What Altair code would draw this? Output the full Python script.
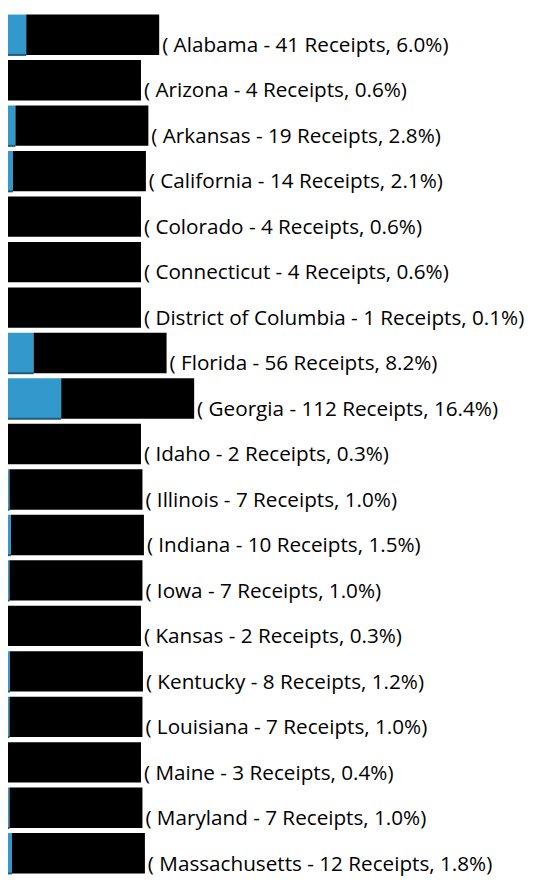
import altair as alt
import pandas as pd

states = ["Alabama", "Arizona", "Arkansas", "California", "Colorado", "Connecticut",
          "District of Columbia", "Florida", "Georgia", "Idaho", "Illinois", "Indiana",
          "Iowa", "Kansas", "Kentucky", "Louisiana", "Maine", "Maryland", "Massachusetts"]
receipts = [41, 4, 19, 14, 4, 4, 1, 56, 112, 2, 7, 10, 7, 2, 8, 7, 3, 7, 12]
percents = [6.0, 0.6, 2.8, 2.1, 0.6, 0.6, 0.1, 8.2, 16.4, 0.3, 1.0, 1.5, 1.0, 0.3, 1.2, 1.0, 0.4, 1.0, 1.8]

labels = [f"( {s} - {n} Receipts, {p:.1f}%)" for s, n, p in zip(states, receipts, percents)]

df = pd.DataFrame({"state": states, "receipts": receipts, "pct": percents, "label": labels})

W, H = 533, 872
xsc = alt.Scale(domain=[4, 4 + 2 * W], clamp=True)
ysc = alt.Scale(paddingInner=0.112, paddingOuter=0)

base = alt.Chart(df).transform_calculate(
    start="max(datum.receipts, 4)",
).transform_calculate(
    end="datum.start + 270",
)

yenc = alt.Y("state:N", sort=None, scale=ysc, axis=None)

blue = base.mark_rect(color="#3399cc").encode(
    x=alt.X("receipts:Q", scale=xsc, axis=None),
    x2=alt.value(0),
    y=yenc,
)

edge = base.mark_rule(color="#1f5b7c", strokeWidth=2).encode(
    x=alt.X("receipts:Q", scale=xsc, axis=None),
    x2=alt.value(0),
    y=alt.Y("state:N", sort=None, scale=ysc, axis=None, bandPosition=1),
)

black = base.mark_rect(color="black").encode(
    x=alt.X("start:Q", scale=xsc, axis=None),
    x2=alt.X2("end:Q"),
    y=yenc,
)

text = base.mark_text(
    align="left", baseline="alphabetic", dx=3, dy=-3,
    font="Open Sans", fontSize=21, color="black",
).encode(
    x=alt.X("end:Q", scale=xsc, axis=None),
    y=alt.Y("state:N", sort=None, scale=ysc, axis=None, bandPosition=1),
    text="label:N",
)

chart = alt.layer(blue, edge, black, text).properties(
    width=W, height=H,
    autosize=alt.AutoSizeParams(type="none"),
    padding=0,
).configure_view(stroke=None)

chart.save("out.html", embed_options={"renderer": "svg", "actions": False})
